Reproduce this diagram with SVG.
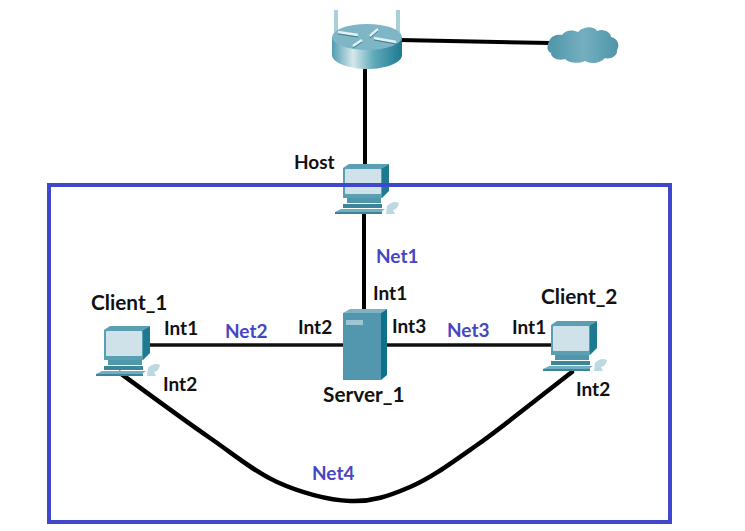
<svg xmlns="http://www.w3.org/2000/svg" width="745" height="531" viewBox="0 0 745 531">
<style>
text{font-family:Lato,"Liberation Sans",sans-serif;font-weight:700;font-size:19px;fill:#111}
text.big{font-size:20.8px}
text.net{fill:#4546c4}
.wire{fill:none;stroke:#000;stroke-width:4}
.thin{fill:none;stroke:#111;stroke-width:3.5}
</style>
<defs>
<linearGradient id="body" x1="0" x2="1" y1="0" y2="0"><stop offset="0" stop-color="#4f9db0"/><stop offset=".3" stop-color="#d5e8ec"/><stop offset=".6" stop-color="#5fa9ba"/><stop offset="1" stop-color="#1e7a90"/></linearGradient>
<linearGradient id="cl" x1="0" x2="1" y1="0" y2="0"><stop offset="0" stop-color="#4f95aa"/><stop offset=".5" stop-color="#74afc0"/><stop offset="1" stop-color="#4f95aa"/></linearGradient>
<g id="pc">
<path d="M0 4 L6 0 H46 L39 4 V34 H0Z" fill="#5b9fb3"/>
<path d="M39 4 L46 0 V27 L39 34Z" fill="#1d7a90"/>
<rect x="2" y="5" width="36" height="25" rx="1" fill="#cfe2ea"/>
<path d="M4 34 H38 V39 H4Z" fill="#4f97ab"/>
<path d="M0 40 H39 V44 H0Z" fill="#3d8599"/>
<path d="M-2 45 H42 L39 47 V50 H-8 V48Z" fill="#6fb0c0"/>
<path d="M-8 48 H39 V50 H-8Z" fill="#3d8599"/>
<path d="M44 42 Q50 36 56 39 Q55 45 50 46 L52 50 H43Z" fill="#bcd9e1"/>
</g>
</defs>
<g id="connectors">
<path class="wire" d="M400 40 L550 43"/>
<path class="wire" d="M365 68 V165"/>
<path class="wire" d="M364 213 V310"/>
<path class="thin" d="M144 345 H345"/>
<path class="thin" d="M387 345 H553"/>
<path class="wire" stroke-linecap="round" style="stroke-width:4.5" d="M120 373 C135 384 184 420 210 438 C236 456 254 471.5 277 482 C300 492.5 328 500 350 501 C372 502 389 496 410 487 C431 478 450 464 477 445 C504 426 556 384 572 372"/>
</g>
<g id="router">
<path d="M336 10 V32 M398 10 V32" stroke="#a9cfd9" stroke-width="4" fill="none"/>
<path d="M332 37 V55 C332 63 350 69 367 69 C385 69 402 63 402 55 V37Z" fill="url(#body)"/>
<ellipse cx="367" cy="37" rx="35" ry="13" fill="#7fb6c6"/>
<path d="M338 32 L358 35 M370 36 L378 29 M353 46 L362 40 M374 38 L396 42" stroke="#e4f1f4" stroke-width="2.5" fill="none"/>
<path d="M338 34 L358 37 M370 38 L378 31 M353 48 L362 42 M374 40 L396 44" stroke="#3f7f92" stroke-width="1" fill="none"/>
</g>
<g id="cloud">
<path d="M548 44 C550 36 556 34 562 35 C566 29 574 30 578 32 C584 26 594 26 597 31 C604 28 611 33 611 37 C618 38 620 46 617 50 C618 56 610 60 605 58 C600 64 590 64 585 61 C580 64 568 63 565 59 C558 61 551 58 551 53 C547 51 547 47 548 44Z" fill="url(#cl)"/>
</g>
<g id="host"><use href="#pc" x="343" y="164"/><text x="294" y="169">Host</text></g>
<g id="client1"><use href="#pc" x="104" y="326"/><text class="big" x="91" y="310">Client_1</text></g>
<g id="client2"><use href="#pc" x="551" y="321"/><text class="big" x="541" y="304">Client_2</text></g>
<g id="server1">
<path d="M343 313 L350 309 H387 L381 313Z" fill="#7fb3c4"/>
<path d="M381 313 L387 309 V375 L381 380Z" fill="#0d7289"/>
<rect x="343" y="313" width="38" height="67" fill="#5297ad"/>
<rect x="346" y="320" width="17" height="5" fill="#9cc6d3"/>
<text class="big" x="323" y="402">Server_1</text>
</g>
<rect id="scope" x="49" y="185" width="621" height="337" fill="none" stroke="#3f48cc" stroke-width="4"/>
<g id="labels">
<text class="net" x="376" y="263">Net1</text>
<text class="net" x="225" y="338">Net2</text>
<text class="net" x="447" y="337">Net3</text>
<text class="net" x="312" y="480">Net4</text>
<text x="373" y="300">Int1</text>
<text x="164" y="335">Int1</text>
<text x="298" y="334">Int2</text>
<text x="392" y="333">Int3</text>
<text x="512" y="334">Int1</text>
<text x="163" y="391">Int2</text>
<text x="576" y="396">Int2</text>
</g>
</svg>
